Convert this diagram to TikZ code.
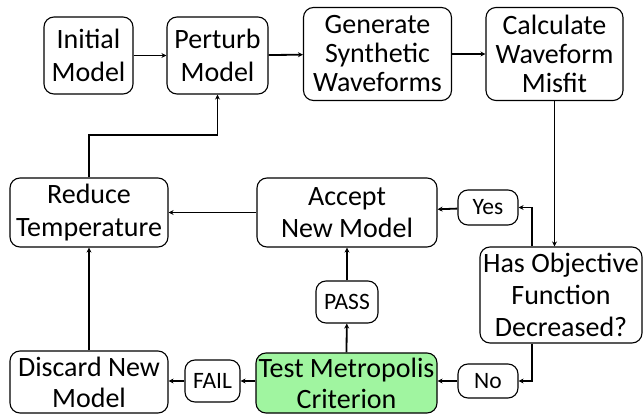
\documentclass[tikz,border=0pt]{standalone}
\usepackage{fontspec}
\setmainfont{Carlito}
\usetikzlibrary{arrows.meta}
\definecolor{testgreen}{RGB}{160,245,160}
\begin{document}
\begin{tikzpicture}[x=1pt,y=-1pt,
    stepbox/.style={draw, line width=1.1pt, rounded corners=10pt, align=center,
      inner sep=0pt, font=\fontsize{28}{32.5}\selectfont},
    tightbox/.style={stepbox, font=\fontsize{28}{29}\selectfont},
    answer/.style={draw, line width=1.1pt, rounded corners=10pt, align=center,
      inner sep=0pt, font=\fontsize{23.5}{27}\selectfont},
    flow/.style={line width=1.8pt, -{Stealth[length=5pt,width=5pt]}}]
    \useasboundingbox (0,0) rectangle (643,414);

    \node[stepbox, minimum width=89pt, minimum height=77pt] (init) at (88.5,55.5) {Initial\\Model};
    \node[stepbox, minimum width=101pt, minimum height=77pt] (perturb) at (217.5,55.5) {Perturb\\Model};
    \node[tightbox, minimum width=148pt, minimum height=93pt] (gen) at (377.5,54) {Generate\\Synthetic\\Waveforms};
    \node[tightbox, minimum width=137pt, minimum height=93pt] (calc) at (554.5,54) {Calculate\\Waveform\\Misfit};

    \node[stepbox, minimum width=158pt, minimum height=69pt] (reduce) at (89,212.5) {Reduce\\Temperature};
    \node[stepbox, minimum width=180pt, minimum height=69pt] (accept) at (347,212.5) {Accept\\New Model};
    \node[stepbox, font=\fontsize{28}{32}\selectfont, minimum width=162pt, minimum height=96pt] (has) at (561,295) {Has Objective\\Function\\Decreased?};

    \node[stepbox, font=\fontsize{28}{31}\selectfont, minimum width=158pt, minimum height=62pt] (discard) at (89,382) {Discard New\\Model};
    \node[stepbox, font=\fontsize{28}{31}\selectfont, fill=testgreen, minimum width=181pt, minimum height=60pt] (test) at (346.5,383) {Test Metropolis\\Criterion};

    \node[answer, minimum width=60pt, minimum height=35pt] (yes) at (488,207.5) {Yes};
    \node[answer, minimum width=60pt, minimum height=34pt] (no) at (488,381) {No};
    \node[answer, minimum width=62pt, minimum height=42pt] (pass) at (347,302) {PASS};
    \node[answer, minimum width=55pt, minimum height=42pt] (fail) at (212.5,381) {FAIL};

    \coordinate (bend) at (217.5,135);
    \coordinate (hasup) at (532,207.5);
    \coordinate (hasdown) at (532,381);

    \draw[flow] (init) -- (perturb);
    \draw[flow] (perturb) -- (gen);
    \draw[flow] (gen) -- (calc);
    \draw[flow] (calc.south) -- (calc.south |- has.north);
    \draw[flow] (hasup |- has.north) -- (hasup) -- (yes.east);
    \draw[flow] (hasdown |- has.south) -- (hasdown) -- (no.east);
    \draw[flow] (yes) -- (accept);
    \draw[flow] (no) -- (no -| test.east);
    \draw[flow] (test.north) -- (pass);
    \draw[flow] (pass) -- (accept);
    \draw[flow] (test.west |- fail) -- (fail);
    \draw[flow] (fail) -- (fail -| discard.east);
    \draw[flow] (accept) -- (reduce);
    \draw[flow] (discard) -- (reduce);
    \draw[flow] (reduce.north) |- (bend) -- (perturb.south);
\end{tikzpicture}
\end{document}
